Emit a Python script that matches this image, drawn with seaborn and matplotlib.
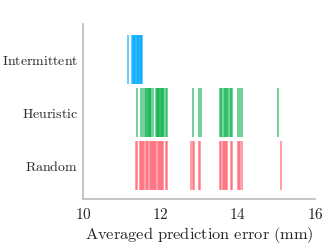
import matplotlib
matplotlib.use("Agg")
import matplotlib.pyplot as plt
import seaborn as sns
import pandas as pd

categories = ["Intermittent", "Heuristic", "Random"]
intermittent = [11.17, 11.27, 11.29, 11.31, 11.33, 11.35, 11.37, 11.39, 11.41, 11.43,
                11.45, 11.47, 11.49, 11.51, 11.53]
heuristic = [11.40, 11.51, 11.56, 11.61, 11.64, 11.66, 11.68, 11.70, 11.72, 11.74, 11.77,
             11.80, 11.89, 11.91, 11.93, 11.95, 11.97, 11.99, 12.01, 12.03, 12.05, 12.07,
             12.09, 12.15, 12.18, 12.85, 13.01, 13.04, 13.54, 13.57, 13.60, 13.64, 13.67,
             13.70, 13.73, 13.76, 13.79, 13.82, 13.86, 14.02, 14.05, 14.12, 15.03]
random_ = [11.36, 11.39, 11.47, 11.50, 11.53, 11.56, 11.59, 11.62, 11.65, 11.68, 11.72,
           11.75, 11.78, 11.81, 11.84, 11.87, 11.90, 11.93, 11.96, 11.99, 12.02, 12.05,
           12.07, 12.15, 12.18, 12.80, 12.84, 12.88, 12.99, 13.02, 13.55, 13.58, 13.61,
           13.64, 13.67, 13.70, 13.73, 13.83, 13.86, 14.01, 14.04, 14.07, 14.11, 15.13]
colors = ["#00A8FF", "#0DB14B", "#FF5A6A"]
xticks = [10, 12, 14, 16]

rows = []
for cat, vals in zip(categories, [intermittent, heuristic, random_]):
    for v in vals:
        rows.append({"err": v, "method": cat})
df = pd.DataFrame(rows)

plt.rcParams["mathtext.fontset"] = "cm"
sns.set_style("white")

fig = plt.figure(figsize=(3.32, 2.49), dpi=100)
ax = fig.add_axes([0.25, 0.201, 0.699, 0.703])

sns.stripplot(data=df, x="err", y="method", hue="method", order=categories,
              hue_order=categories, palette=colors, jitter=False, marker="|",
              size=35, linewidth=1.1, alpha=0.75, legend=False, ax=ax)

ax.set_xlim(10, 16)
ax.set_ylim(2.63, -0.67)
ax.set_xticks(xticks)
ax.set_xticklabels([r"$\mathrm{%d}$" % t for t in xticks], fontsize=11)
ax.set_yticks(range(len(categories)))
ax.set_yticklabels([r"$\mathrm{%s}$" % c for c in categories], fontsize=10)
ax.set_xlabel(r"$\mathrm{Averaged\ prediction\ error\ (mm)}$", fontsize=11.8, labelpad=2)
ax.set_ylabel("")
sns.despine(ax=ax)
for s in ["left", "bottom"]:
    ax.spines[s].set_color("#bbbbbb")
    ax.spines[s].set_linewidth(1.2)
ax.tick_params(axis="x", direction="in", length=3, color="#999999", pad=6)
ax.tick_params(axis="y", direction="out", length=2, color="#999999", pad=1.5)

fig.savefig("out.png", dpi=100)
